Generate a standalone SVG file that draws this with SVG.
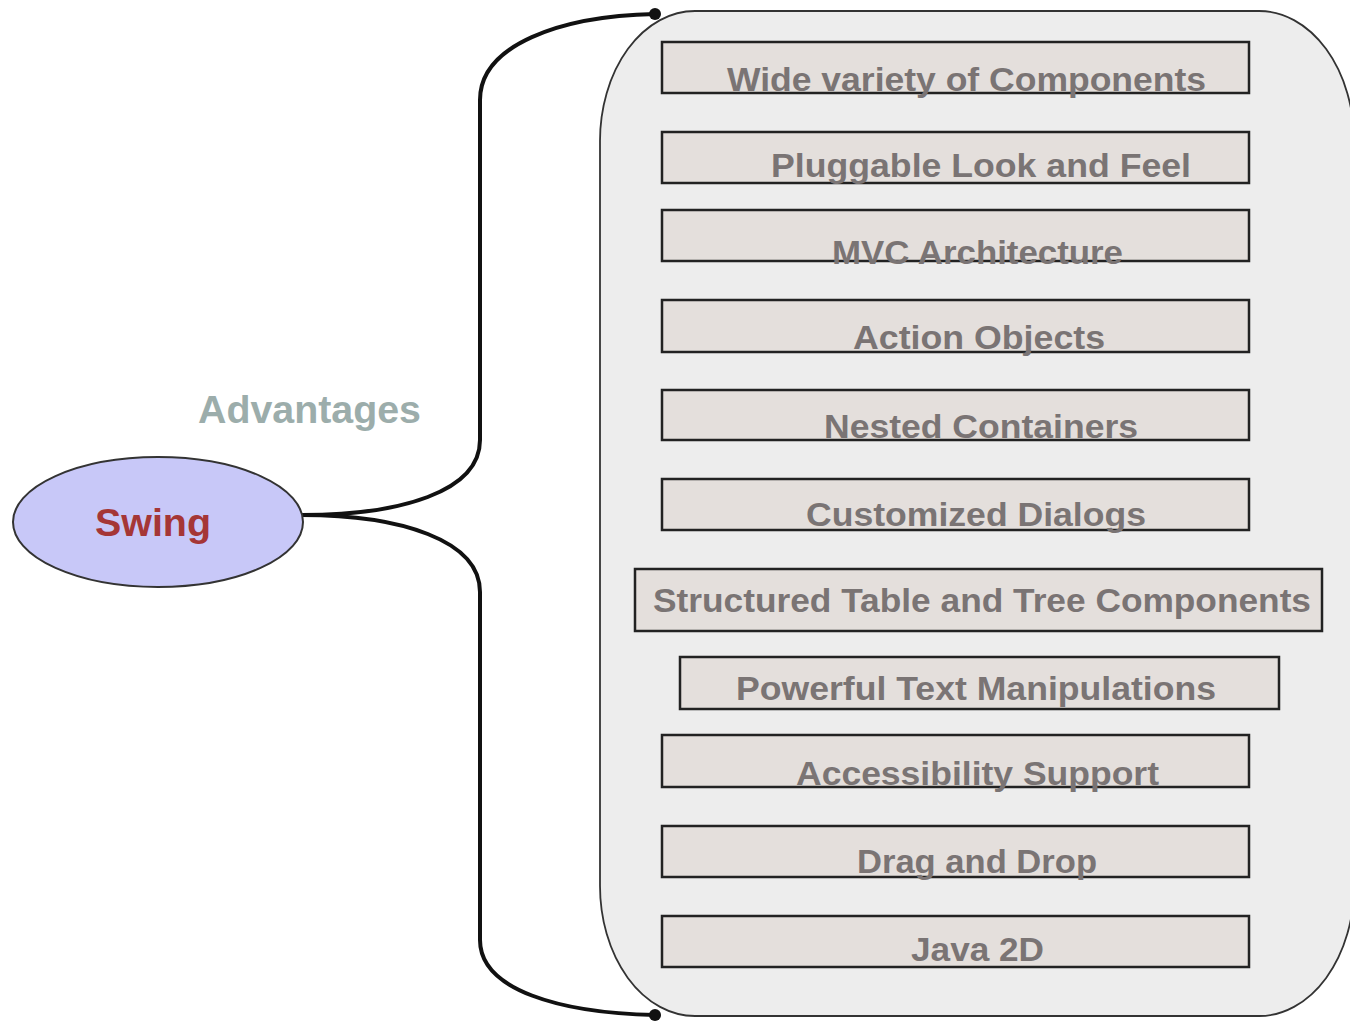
<svg xmlns="http://www.w3.org/2000/svg" width="1350" height="1022" viewBox="0 0 1350 1022">
<style>
.box{fill:#e4dfdc;stroke:#222;stroke-width:2.5}
.lbl{font-family:"Liberation Sans",Arial,sans-serif;font-weight:bold;font-size:33px;fill:#7a7474;text-anchor:start}
.wire{fill:none;stroke:#111;stroke-width:4;stroke-linecap:round}
</style>
<rect width="1350" height="1022" fill="#ffffff"/>
<g id="container">
<rect x="600" y="11" width="754" height="1005" rx="95" ry="130" fill="#ededed" stroke="#333" stroke-width="1.8"/>
</g>
<g id="connectors">
<path class="wire" d="M302,515 C400,515 480,492 480,440 L480,100 C480,45 560,16 655,14"/>
<path class="wire" d="M302,515 C400,515 480,540 480,592 L480,940 C480,990 560,1013 655,1015"/>
<circle cx="655" cy="14" r="6" fill="#111"/>
<circle cx="655" cy="1015" r="6" fill="#111"/>
</g>
<g id="advantages-label">
<text x="198" y="423" font-family="Liberation Sans,Arial,sans-serif" font-weight="bold" font-size="38" fill="#9cadab" textLength="223" lengthAdjust="spacingAndGlyphs">Advantages</text>
</g>
<g id="swing">
<ellipse cx="158" cy="522" rx="145" ry="65" fill="#c8c8f8" stroke="#333" stroke-width="2"/>
<text x="95" y="536" font-family="Liberation Sans,Arial,sans-serif" font-weight="bold" font-size="38" fill="#a53636" textLength="116" lengthAdjust="spacingAndGlyphs">Swing</text>
</g>
<g id="n1"><rect class="box" x="662" y="42" width="587" height="51"/><text class="lbl" x="727" y="91" textLength="479" lengthAdjust="spacingAndGlyphs">Wide variety of Components</text></g>
<g id="n2"><rect class="box" x="662" y="132" width="587" height="51"/><text class="lbl" x="771" y="177" textLength="420" lengthAdjust="spacingAndGlyphs">Pluggable Look and Feel</text></g>
<g id="n3"><rect class="box" x="662" y="210" width="587" height="51"/><text class="lbl" x="832" y="264" textLength="291" lengthAdjust="spacingAndGlyphs">MVC Architecture</text></g>
<g id="n4"><rect class="box" x="662" y="300" width="587" height="52"/><text class="lbl" x="853" y="349" textLength="252" lengthAdjust="spacingAndGlyphs">Action Objects</text></g>
<g id="n5"><rect class="box" x="662" y="390" width="587" height="50"/><text class="lbl" x="824" y="438" textLength="314" lengthAdjust="spacingAndGlyphs">Nested Containers</text></g>
<g id="n6"><rect class="box" x="662" y="479" width="587" height="51"/><text class="lbl" x="806" y="526" textLength="340" lengthAdjust="spacingAndGlyphs">Customized Dialogs</text></g>
<g id="n7"><rect class="box" x="635" y="569" width="687" height="62"/><text class="lbl" x="653" y="612" textLength="658" lengthAdjust="spacingAndGlyphs">Structured Table and Tree Components</text></g>
<g id="n8"><rect class="box" x="680" y="657" width="599" height="52"/><text class="lbl" x="736" y="700" textLength="480" lengthAdjust="spacingAndGlyphs">Powerful Text Manipulations</text></g>
<g id="n9"><rect class="box" x="662" y="735" width="587" height="52"/><text class="lbl" x="796" y="785" textLength="363" lengthAdjust="spacingAndGlyphs">Accessibility Support</text></g>
<g id="n10"><rect class="box" x="662" y="826" width="587" height="51"/><text class="lbl" x="857" y="873" textLength="240" lengthAdjust="spacingAndGlyphs">Drag and Drop</text></g>
<g id="n11"><rect class="box" x="662" y="916" width="587" height="51"/><text class="lbl" x="911" y="961" textLength="133" lengthAdjust="spacingAndGlyphs">Java 2D</text></g>
</svg>
